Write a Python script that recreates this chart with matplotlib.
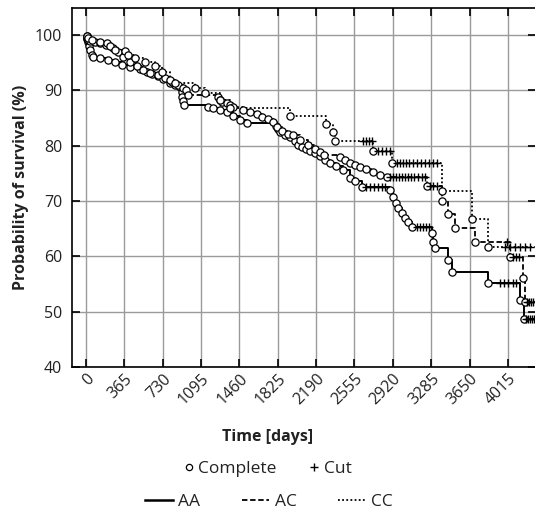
import matplotlib
matplotlib.use("Agg")
import matplotlib.pyplot as plt
from matplotlib.lines import Line2D
import numpy as np

plt.rcParams['font.family'] = ['Open Sans', 'DejaVu Sans']

# ---------------- data ----------------
xticks = [0, 365, 730, 1095, 1460, 1825, 2190, 2555, 2920, 3285, 3650, 4015]
yticks = [40, 50, 60, 70, 80, 90, 100]

aa_time = [5, 10, 19, 29, 38, 57, 67, 133, 209, 276, 343, 419, 514, 580, 628, 685, 733, 799, 847, 894,
           913, 918, 923, 928, 1161, 1208, 1275, 1342, 1399, 1465, 1532, 1808, 1827, 1846, 1893, 1941,
           1989, 2017, 2055, 2093, 2131, 2179, 2227, 2274, 2322, 2379, 2445, 2512, 2560, 2626, 2893,
           2921, 2950, 2969, 3007, 3035, 3064, 3102, 3292, 3302, 3321, 3444, 3483, 3825, 4130, 4168]
aa_surv = [99.6, 99.3, 98.7, 98.0, 97.3, 96.4, 96.0, 95.8, 95.5, 95.1, 94.6, 94.2, 93.9, 93.3, 93.0, 92.6,
           92.1, 91.3, 91.0, 90.6, 89.7, 88.8, 88.1, 87.4, 87.0, 86.8, 86.5, 86.1, 85.4, 84.7, 84.1, 83.6,
           83.0, 82.5, 81.9, 81.6, 80.9, 80.1, 79.8, 79.4, 79.1, 78.7, 78.2, 77.4, 76.9, 76.4, 75.6, 74.2,
           73.6, 72.5, 72.0, 70.8, 69.7, 68.8, 67.9, 67.0, 66.2, 65.3, 64.3, 62.6, 61.6, 59.4, 57.2, 55.2,
           52.2, 48.6]
aa_cens_time = [2664, 2702, 2740, 2778, 2816, 2845, 3149, 3178, 3207, 3235, 3264,
                3939, 3977, 4015, 4063, 4091, 4187, 4206, 4225, 4244, 4263]
aa_cens_surv = [72.5] * 6 + [65.3] * 5 + [55.2] * 5 + [48.6] * 5

ac_time = [5, 10, 19, 38, 86, 133, 190, 257, 304, 352, 419, 485, 542, 609, 685, 752, 818, 875, 923, 951,
           971, 1256, 1275, 1294, 1342, 1370, 1399, 1494, 1560, 1627, 1675, 1732, 1779, 1817, 1865, 1922,
           1970, 2036, 2112, 2179, 2227, 2265, 2417, 2464, 2512, 2560, 2607, 2664, 2731, 2797, 2864,
           3245, 3387, 3444, 3511, 3701, 4034, 4158, 4177]
ac_surv = [99.8, 99.5, 99.1, 98.9, 98.7, 98.6, 98.2, 97.7, 96.9, 96.0, 95.1, 94.4, 93.7, 93.1, 92.8, 92.2,
           91.5, 91.0, 90.4, 90.1, 89.2, 88.8, 88.3, 87.9, 87.7, 87.4, 87.0, 86.5, 86.1, 85.7, 85.2, 84.8,
           84.3, 83.4, 82.7, 82.1, 81.9, 81.0, 80.1, 79.4, 78.9, 78.3, 78.0, 77.4, 76.9, 76.5, 76.2, 75.8,
           75.3, 74.7, 74.4, 72.7, 70.0, 67.7, 65.2, 62.6, 59.9, 56.1, 51.8]
ac_cens_time = [2893, 2921, 2950, 2978, 3007, 3035, 3064, 3092, 3121, 3159, 3197, 3226,
                3273, 3302, 3340, 4006, 4063, 4091, 4120, 4196, 4215, 4234, 4253]
ac_cens_surv = [74.4] * 12 + [72.7] * 3 + [62.6] + [59.9] * 3 + [51.8] * 4

cc_time = [5, 19, 57, 133, 200, 228, 276, 371, 400, 466, 561, 657, 723, 799, 847, 1037, 1132, 1275,
           1370, 1941, 2284, 2350, 2369, 2731, 2912, 3387, 3673, 3825]
cc_surv = [99.8, 99.5, 99.1, 98.7, 98.6, 98.0, 97.3, 97.1, 96.4, 95.8, 95.1, 94.4, 93.3, 91.9, 91.3,
           90.4, 89.5, 88.3, 86.8, 85.4, 83.9, 82.5, 80.9, 79.1, 76.9, 71.8, 66.8, 61.7]
cc_cens_time = [2636, 2664, 2693, 2721, 2778, 2816, 2854, 2893,
                2959, 2988, 3016, 3045, 3073, 3111, 3149, 3188, 3226, 3264, 3302, 3340,
                3987, 4034, 4082, 4130, 4177, 4225]
cc_cens_surv = [80.9] * 4 + [79.1] * 4 + [76.9] * 12 + [61.7] * 6
end_time = 4282

groups = [
    ("AA", aa_time, aa_surv, aa_cens_time, aa_cens_surv, '-', 1.4),
    ("AC", ac_time, ac_surv, ac_cens_time, ac_cens_surv, (0, (3.0, 1.5)), 1.3),
    ("CC", cc_time, cc_surv, cc_cens_time, cc_cens_surv, (0, (1.0, 1.3)), 1.3),
]

TXT = '#222222'

# ---------------- figure ----------------
W, H = 535, 513
fig = plt.figure(figsize=(W / 100, H / 100), dpi=100)
ax = fig.add_axes([72 / W, 1 - 367 / H, (536 - 72) / W, (367 - 8) / H])

ax.set_xlim(-133, end_time)
ax.set_ylim(40, 104.9)
ax.set_xticks(xticks)
ax.set_yticks(yticks)
ax.grid(True, color='#9a9a9a', linewidth=1.0)
ax.set_axisbelow(True)

for name, t, s, ct, cs, ls, lw in groups:
    xs = [0] + list(t) + [end_time]
    ys = [100] + list(s) + [s[-1]]
    ax.step(xs, ys, where='post', color='black', linestyle=ls, linewidth=lw, zorder=3)
    ax.plot(t, s, linestyle='none', marker='o', markersize=5.2, markerfacecolor='white',
            markeredgecolor='black', markeredgewidth=0.9, zorder=4)
    ax.plot(ct, cs, linestyle='none', marker='+', markersize=6, color='black',
            markeredgewidth=1.0, zorder=4)

for side in ['left', 'bottom', 'top']:
    ax.spines[side].set_color('black')
    ax.spines[side].set_linewidth(1.2)
ax.spines['right'].set_visible(False)
ax.tick_params(axis='both', direction='in', length=6, width=1.2, color='black',
               top=True, right=True, labelsize=11.5, labelcolor=TXT)
ax.tick_params(axis='y', pad=7)
ax.tick_params(axis='x', pad=3)
for lab in ax.get_xticklabels():
    lab.set_rotation(45)
    lab.set_ha('right')
    lab.set_va('top')
    lab.set_rotation_mode('anchor')

ax.set_ylabel('Probability of survival (%)', fontsize=11.5, fontweight='bold', labelpad=4, color=TXT)
fig.text(268 / W, 1 - 437 / H, 'Time [days]', fontsize=11.5, fontweight='bold', ha='center',
         va='center', color=TXT)

h1 = [Line2D([], [], linestyle='none', marker='o', markersize=4.5, markerfacecolor='white',
             markeredgecolor='black', markeredgewidth=0.9),
      Line2D([], [], linestyle='none', marker='+', markersize=6, color='black', markeredgewidth=1.0)]
leg1 = fig.legend(h1, ['Complete', 'Cut'], loc='center', bbox_to_anchor=(268 / W, 1 - 469 / H),
                  ncol=2, frameon=False, fontsize=12.5, handlelength=0.5, handletextpad=0.3,
                  columnspacing=1.9, borderpad=0, labelcolor=TXT)

h2 = [Line2D([], [], color='black', linestyle=g[5], linewidth=g[6] if g[0] != 'AA' else 1.8) for g in groups]
leg2 = fig.legend(h2, [g[0] for g in groups], loc='center', bbox_to_anchor=(269 / W, 1 - 502 / H),
                  ncol=3, frameon=False, fontsize=12.5, handlelength=1.6, handletextpad=0.3,
                  columnspacing=2.4, borderpad=0, labelcolor=TXT)

fig.savefig('out.png', dpi=100)
